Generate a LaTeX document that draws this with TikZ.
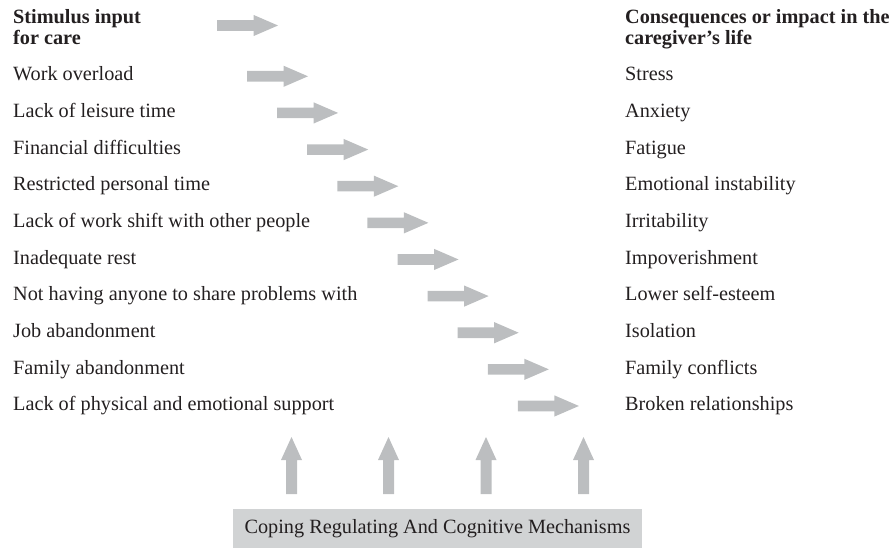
\documentclass[tikz,border=0pt]{standalone}
\usepackage{fontspec}
\setmainfont{Liberation Serif}
\definecolor{txt}{HTML}{231F20}
\definecolor{arr}{HTML}{BCBEC0}
\definecolor{boxc}{HTML}{D1D3D4}
\begin{document}
\begin{tikzpicture}[x=1pt,y=-1pt,
  font=\fontsize{20.25}{21.5}\selectfont,
  lbl/.style={anchor=base west, inner sep=0pt, text=txt},
  hdr/.style={anchor=north west, inner sep=0pt, text=txt, align=left, font=\fontsize{20.25}{21.5}\selectfont\bfseries},
  rarrow/.style={fill=arr, draw=none},
  uarrow/.style={fill=arr, draw=none}]
\useasboundingbox (0,0) rectangle (890,548);
% headers
\node[hdr] (hl) at (13,9) {Stimulus input\\for care};
\node[hdr] (hr) at (625,9) {Consequences or impact in the\\caregiver\char"0027 s life};
% left column
\foreach \t [count=\i from 0] in {Work overload,Lack of leisure time,Financial difficulties,Restricted personal time,Lack of work shift with other people,Inadequate rest,Not having anyone to share problems with,Job abandonment,Family abandonment,Lack of physical and emotional support}
  \node[lbl] (l\i) at (13,81+36.63*\i) {\t};
% right column
\foreach \t [count=\i from 0] in {Stress,Anxiety,Fatigue,Emotional instability,Irritability,Impoverishment,Lower self-esteem,Isolation,Family conflicts,Broken relationships}
  \node[lbl] (r\i) at (625,81+36.63*\i) {\t};
% right arrows
\fill[rarrow] (217,25.5) ++(0,-5.3) -- ++(36.5,0) -- ++(0,-5.3) -- ++(24.5,10.6) -- ++(-24.5,10.6) -- ++(0,-5.3) -- ++(-36.5,0) -- cycle;
\foreach \i in {0,...,9}{
  \pgfmathsetmacro{\xx}{247+30.1*\i}
  \pgfmathsetmacro{\yy}{76.3+36.63*\i}
  \fill[rarrow] (\xx,\yy) ++(0,-5.3) -- ++(36.5,0) -- ++(0,-5.3) -- ++(24.5,10.6) -- ++(-24.5,10.6) -- ++(0,-5.3) -- ++(-36.5,0) -- cycle;
}
% bottom box
\node[fill=boxc, inner sep=0pt, minimum width=409pt, minimum height=39pt, text=txt] (cope) at (437.5,528.5) {Coping Regulating And Cognitive Mechanisms};
% up arrows
\foreach \xx in {291.5,388.5,486,583.5}{
  \fill[uarrow] (\xx,494) ++(-5.5,0) -- ++(0,-34) -- ++(-5,0) -- ++(10.5,-23) -- ++(10.5,23) -- ++(-5,0) -- ++(0,34) -- cycle;
}
\end{tikzpicture}
\end{document}
